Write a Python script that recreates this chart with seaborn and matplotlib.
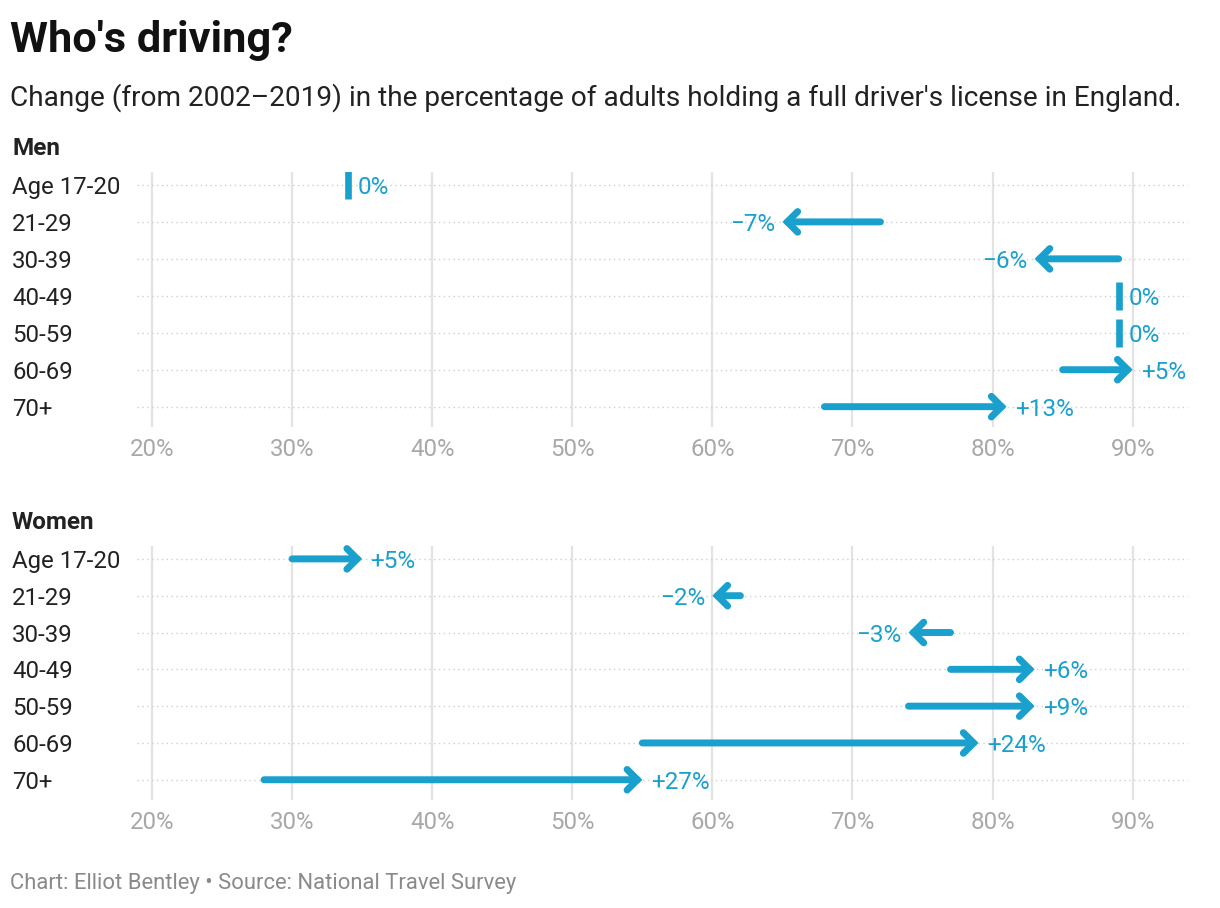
import matplotlib
matplotlib.use("Agg")
import matplotlib.pyplot as plt
import seaborn as sns
import pandas as pd
import numpy as np

ages = ["Age 17-20", "21-29", "30-39", "40-49", "50-59", "60-69", "70+"]
men_2002 = [34, 72, 89, 89, 89, 85, 68]
men_2019 = [34, 65, 83, 89, 89, 90, 81]
women_2002 = [30, 62, 77, 77, 74, 55, 28]
women_2019 = [35, 60, 74, 83, 83, 79, 55]
xticks = [20, 30, 40, 50, 60, 70, 80, 90]

BLUE = "#1aa0cd"
FONT = ["Roboto", "DejaVu Sans"]

sns.set_theme(style="white")
plt.rcParams["font.family"] = FONT

fig = plt.figure(figsize=(12.2, 9.08), dpi=100)
ax_m = fig.add_axes([137/1220, 1-427/908, (1188-137)/1220, (427-172)/908])
ax_w = fig.add_axes([137/1220, 1-800/908, (1188-137)/1220, (800-546)/908])

def draw(ax, start, end):
    df = pd.DataFrame({"age": ages, "start": start, "end": end, "row": range(len(ages))})
    ax.set_xlim(18.93, 93.95)
    ax.set_ylim(6.55, -0.35)
    for x in xticks:
        ax.axvline(x, color="#e3e3e3", lw=1.6, zorder=0)
    for r in df["row"]:
        ax.axhline(r, color="#cfcfcf", lw=1.0, ls=(0, (1, 2.5)), zorder=0)
    zero = df[df["start"] == df["end"]]
    sns.scatterplot(data=zero, x="start", y="row", marker="|", s=420,
                    linewidth=4.8, color=BLUE, ax=ax, zorder=3, legend=False)
    for _, r in df.iterrows():
        s, e, y = r["start"], r["end"], r["row"]
        d = e - s
        if d != 0:
            ax.annotate("", xy=(e, y), xytext=(s, y),
                        arrowprops=dict(arrowstyle="->,head_length=0.62,head_width=0.62",
                                        lw=5, color=BLUE, shrinkA=0, shrinkB=0,
                                        capstyle="round", joinstyle="miter"),
                        zorder=3)
        if d > 0:
            txt, ha, off = f"+{d}%", "left", 0.6
        elif d < 0:
            txt, ha, off = f"\u2212{-d}%", "right", -0.5
        else:
            txt, ha, off = "0%", "left", 0.7
        ax.text(e + off, y, txt, color=BLUE, fontsize=17.5, ha=ha,
                va="center_baseline", family=FONT)
    ax.set_xticks(xticks)
    ax.set_xticklabels([f"{x}%" for x in xticks], color="#a8a8a8", fontsize=17.3)
    ax.set_yticks(range(len(ages)))
    ax.set_yticklabels(ages, fontsize=17.3, color="#222222", ha="left")
    ax.tick_params(axis="y", length=0, pad=125*0.72)
    ax.tick_params(axis="x", length=0, pad=8)
    ax.set_xlabel("")
    ax.set_ylabel("")
    for sp in ax.spines.values():
        sp.set_visible(False)

draw(ax_m, men_2002, men_2019)
draw(ax_w, women_2002, women_2019)

fig.text(10/1220, 1-52/908, "Who's driving?", fontsize=31.2, fontweight="bold",
         color="#111111", ha="left", va="baseline")
fig.text(10/1220, 1-106/908,
         "Change (from 2002\u20132019) in the percentage of adults holding a full driver's license in England.",
         fontsize=20.2, color="#222222", ha="left", va="baseline")
fig.text(12/1220, 1-155/908, "Men", fontsize=17.5, fontweight="bold",
         color="#222222", ha="left", va="baseline")
fig.text(12/1220, 1-529/908, "Women", fontsize=17.5, fontweight="bold",
         color="#222222", ha="left", va="baseline")
fig.text(10/1220, 1-889/908, "Chart: Elliot Bentley \u2022 Source: National Travel Survey",
         fontsize=15.8, color="#8a8a8a", ha="left", va="baseline")

fig.savefig("out.png", dpi=100)
